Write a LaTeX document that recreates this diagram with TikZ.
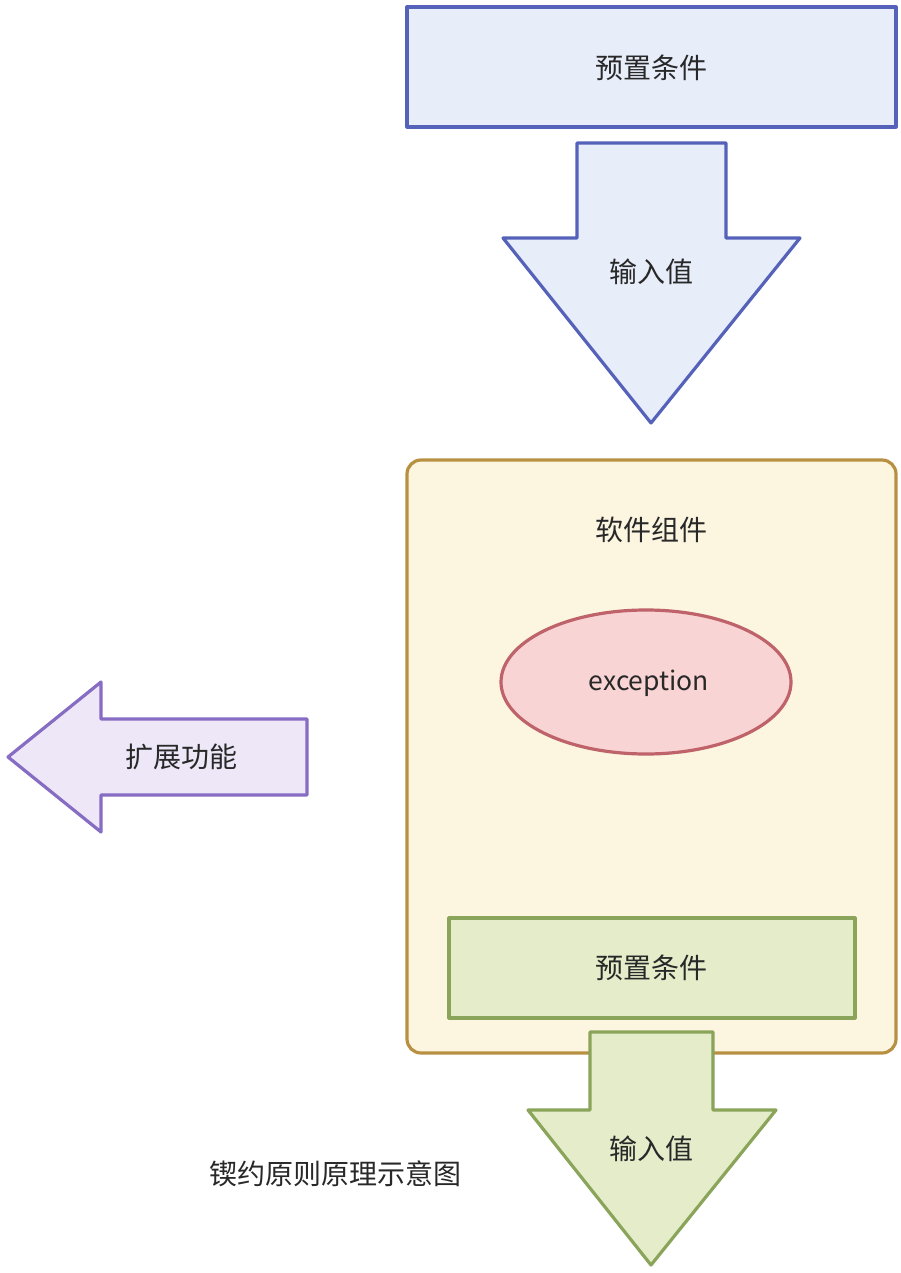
\documentclass[tikz,border=0pt]{standalone}
\usepackage{fontspec}
\setmainfont{Noto Sans CJK SC}
\usetikzlibrary{shapes.geometric}
\definecolor{bluestroke}{RGB}{85,98,186}
\definecolor{bluefill}{RGB}{232,237,250}
\definecolor{goldstroke}{RGB}{184,144,66}
\definecolor{goldfill}{RGB}{252,245,224}
\definecolor{redstroke}{RGB}{191,99,106}
\definecolor{redfill}{RGB}{249,212,212}
\definecolor{purstroke}{RGB}{134,108,194}
\definecolor{purfill}{RGB}{238,231,248}
\definecolor{grnstroke}{RGB}{138,164,90}
\definecolor{grnfill}{RGB}{228,236,202}
\definecolor{txt}{RGB}{40,40,40}
\tikzset{
  lbl/.style={text=txt, font=\fontsize{28}{33}\selectfont, inner sep=0pt},
  boxshape/.style={line width=3.2pt, inner sep=0pt, line join=round},
}
\begin{document}
\begin{tikzpicture}[x=1pt,y=-1pt]
\useasboundingbox (0,0) rectangle (901,1273);
% top box
\node[boxshape, draw=bluestroke, fill=bluefill, minimum width=489pt, minimum height=120pt] (top) at (651.5,67) {};
\node[lbl] (toplbl) at (651.5,68) {预置条件};
% down arrow 1
\draw[boxshape, draw=bluestroke, fill=bluefill] (577,143) -- (726,143) -- (726,238) -- (800,238) -- (651,423) -- (503,238) -- (577,238) -- cycle;
\node[lbl] (in1) at (651,272) {输入值};
% container
\node[boxshape, draw=goldstroke, fill=goldfill, rounded corners=14pt, minimum width=489pt, minimum height=593pt] (comp) at (651.5,756.5) {};
\node[lbl] (complbl) at (651,530) {软件组件};
% ellipse
\node[ellipse, line width=3.2pt, draw=redstroke, fill=redfill, minimum width=290pt, minimum height=144pt, inner sep=0pt] (exc) at (646,682) {};
\node[lbl, font=\fontsize{26.5}{31}\selectfont] (exclbl) at (649,683) {exception};
% left arrow
\draw[boxshape, draw=purstroke, fill=purfill] (8,757) -- (101,682) -- (101,719) -- (307,719) -- (307,795) -- (101,795) -- (101,832) -- cycle;
\node[lbl] (ext) at (181,757) {扩展功能};
% green box
\node[boxshape, draw=grnstroke, fill=grnfill, minimum width=406pt, minimum height=100pt] (pre2) at (652,968) {};
\node[lbl] (pre2lbl) at (651.5,968) {预置条件};
% down arrow 2
\draw[boxshape, draw=grnstroke, fill=grnfill] (590,1032) -- (713,1032) -- (713,1110) -- (776,1110) -- (651,1265) -- (528,1110) -- (590,1110) -- cycle;
\node[lbl] (in2) at (651,1149) {输入值};
% caption
\node[lbl] (cap) at (335,1174) {锲约原则原理示意图};
\end{tikzpicture}
\end{document}
